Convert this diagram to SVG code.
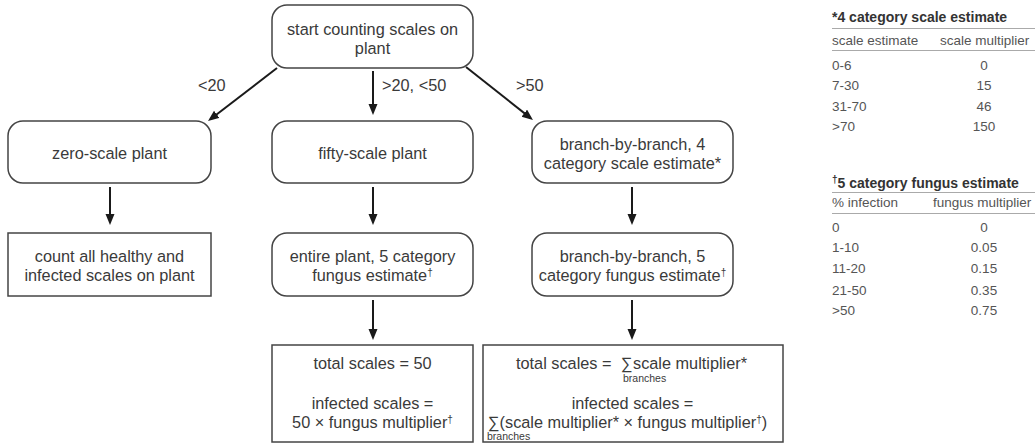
<svg xmlns="http://www.w3.org/2000/svg" width="1035" height="444" viewBox="0 0 1035 444">
<defs>
<style>
text{font-family:"Liberation Sans",Arial,sans-serif;fill:#3a3a3a}
.t{font-size:16.3px;text-anchor:middle}
.l{font-size:16.3px}
.sm{font-size:10.5px}
.box{fill:#fff;stroke:#444;stroke-width:1.5}
.arr{stroke:#1a1a1a;stroke-width:2;fill:none;marker-end:url(#ah)}
.tt{font-size:14px;font-weight:bold;fill:#333}
.td{font-size:13.5px;fill:#555}
.tv{font-size:13.5px;fill:#555;text-anchor:middle}
.rule{stroke:#aaa;stroke-width:1}
</style>
<marker id="ah" markerUnits="userSpaceOnUse" markerWidth="12" markerHeight="10" refX="8" refY="4.5" orient="auto">
<path d="M0,0 L11,4.5 L0,9 z" fill="#1a1a1a"/>
</marker>
</defs>
<rect width="1035" height="444" fill="#fff"/>

<g id="connectors">
<line class="arr" x1="277" y1="68" x2="210.4" y2="119.2"/>
<line class="arr" x1="373" y1="71" x2="373" y2="112"/>
<line class="arr" x1="466" y1="67" x2="530.6" y2="118.1"/>
<line class="arr" x1="110" y1="187" x2="110" y2="222"/>
<line class="arr" x1="373" y1="187" x2="373" y2="222"/>
<line class="arr" x1="632" y1="187" x2="632" y2="222"/>
<line class="arr" x1="373" y1="300" x2="373" y2="337"/>
<line class="arr" x1="632" y1="300" x2="632" y2="337"/>
<text class="l" x="198" y="91">&lt;20</text>
<text class="l" x="382" y="91">&gt;20, &lt;50</text>
<text class="l" x="516" y="91">&gt;50</text>
</g>

<g id="start">
<rect class="box" x="272" y="5" width="201" height="63" rx="15"/>
<text class="t" x="372.5" y="35">start counting scales on</text>
<text class="t" x="372.5" y="54">plant</text>
</g>

<g id="zero">
<rect class="box" x="8" y="121" width="203" height="62" rx="15"/>
<text class="t" x="109.5" y="159">zero-scale plant</text>
</g>

<g id="fifty">
<rect class="box" x="272" y="121" width="201" height="62" rx="15"/>
<text class="t" x="372.5" y="159">fifty-scale plant</text>
</g>

<g id="branch4">
<rect class="box" x="532" y="121" width="201" height="62" rx="15"/>
<text class="t" x="632.5" y="150">branch-by-branch, 4</text>
<text class="t" x="632.5" y="169">category scale estimate*</text>
</g>

<g id="countall">
<rect class="box" x="8" y="233" width="203" height="63"/>
<text class="t" x="109.5" y="262">count all healthy and</text>
<text class="t" x="109.5" y="281">infected scales on plant</text>
</g>

<g id="entire">
<rect class="box" x="272" y="233" width="201" height="63" rx="15"/>
<text class="t" x="372.5" y="262">entire plant, 5 category</text>
<text class="t" x="372.5" y="281">fungus estimate<tspan font-size="10" dy="-5">†</tspan></text>
</g>

<g id="branch5">
<rect class="box" x="532" y="233" width="201" height="63" rx="15"/>
<text class="t" x="632.5" y="262">branch-by-branch, 5</text>
<text class="t" x="632.5" y="281">category fungus estimate<tspan font-size="10" dy="-5">†</tspan></text>
</g>

<g id="result50">
<rect class="box" x="272" y="345" width="201" height="97"/>
<text class="t" x="372.5" y="369">total scales = 50</text>
<text class="t" x="372.5" y="409">infected scales =</text>
<text class="t" x="372.5" y="428">50 × fungus multiplier<tspan font-size="10" dy="-5">†</tspan></text>
</g>

<g id="resultbranch">
<rect class="box" x="483" y="345" width="300" height="97"/>
<text class="l" x="516" y="369">total scales =</text>
<text class="l" x="621" y="369">∑</text>
<text class="l" x="633" y="369">scale multiplier*</text>
<text class="sm" x="623" y="382">branches</text>
<text class="t" x="632.5" y="409">infected scales =</text>
<text class="l" x="488" y="428">∑(scale multiplier* × fungus multiplier<tspan font-size="10" dy="-5">†</tspan><tspan dy="5">)</tspan></text>
<text class="sm" x="487" y="440">branches</text>
</g>

<g id="table-scale">
<text class="tt" x="832" y="22">*4 category scale estimate</text>
<line class="rule" x1="832" y1="28.5" x2="1035" y2="28.5"/>
<text class="td" x="832" y="45">scale estimate</text>
<text class="td" x="940" y="45">scale multiplier</text>
<line class="rule" x1="832" y1="50.5" x2="1035" y2="50.5"/>
<text class="td" x="832" y="70">0-6</text><text class="tv" x="984" y="70">0</text>
<text class="td" x="832" y="90">7-30</text><text class="tv" x="984" y="90">15</text>
<text class="td" x="832" y="111">31-70</text><text class="tv" x="984" y="111">46</text>
<text class="td" x="832" y="131">&gt;70</text><text class="tv" x="984" y="131">150</text>
</g>

<g id="table-fungus">
<text class="tt" x="832" y="188"><tspan font-size="10" dy="-5">†</tspan><tspan dy="5">5 category fungus estimate</tspan></text>
<line class="rule" x1="832" y1="192.5" x2="1035" y2="192.5"/>
<text class="td" x="832" y="207">% infection</text>
<text class="td" x="933" y="207">fungus multiplier</text>
<line class="rule" x1="832" y1="213.5" x2="1035" y2="213.5"/>
<text class="td" x="832" y="232">0</text><text class="tv" x="984" y="232">0</text>
<text class="td" x="832" y="252">1-10</text><text class="tv" x="984" y="252">0.05</text>
<text class="td" x="832" y="273">11-20</text><text class="tv" x="984" y="273">0.15</text>
<text class="td" x="832" y="295">21-50</text><text class="tv" x="984" y="295">0.35</text>
<text class="td" x="832" y="315">&gt;50</text><text class="tv" x="984" y="315">0.75</text>
</g>
</svg>
